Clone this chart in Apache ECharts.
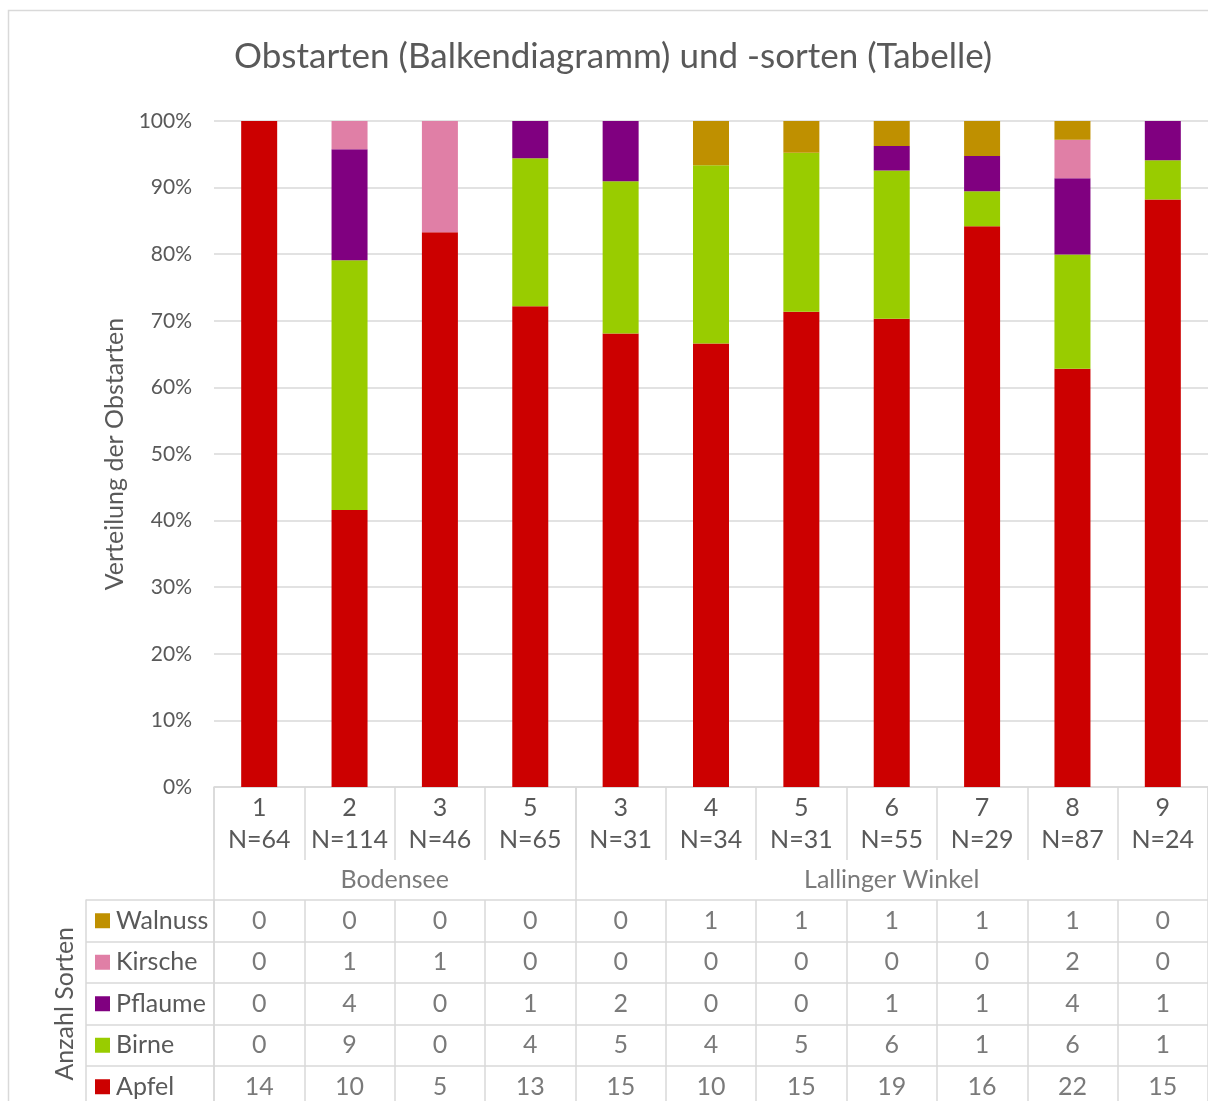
<!DOCTYPE html>
<html>
<head>
<meta charset="utf-8">
<script src="https://cdn.jsdelivr.net/npm/echarts@6/dist/echarts.min.js"></script>
<style>
html, body { margin: 0; padding: 0; background: #fff; }
#chart { width: 1208px; height: 1101px; }
</style>
</head>
<body>
<div id="chart"></div>
<script>
// Kategorien (Standort-Nr.) und Stichprobengroessen
const categories = ['1', '2', '3', '5', '3', '4', '5', '6', '7', '8', '9'];
const sampleSizes = [64, 114, 46, 65, 31, 34, 31, 55, 29, 87, 24];
const regions = ['Bodensee', 'Lallinger Winkel'];
const regionSpans = [4, 7];

// Verteilung der Obstarten in %
const apfelPct   = [100, 41.6, 83.3, 72.2, 68.1, 66.6, 71.35, 70.3, 84.2, 62.8, 88.2];
const birnePct   = [0, 37.5, 0, 22.2, 22.85, 26.75, 23.9, 22.25, 5.25, 17.15, 5.9];
const pflaumePct = [0, 16.65, 0, 5.6, 9.05, 0, 0, 3.7, 5.3, 11.45, 5.9];
const kirschePct = [0, 4.25, 16.7, 0, 0, 0, 0, 0, 0, 5.8, 0];
const walnussPct = [0, 0, 0, 0, 0, 6.65, 4.75, 3.75, 5.25, 2.8, 0];

// Anzahl Sorten (Tabelle)
const apfelSorten   = [14, 10, 5, 13, 15, 10, 15, 19, 16, 22, 15];
const birneSorten   = [0, 9, 0, 4, 5, 4, 5, 6, 1, 6, 1];
const pflaumeSorten = [0, 4, 0, 1, 2, 0, 0, 1, 1, 4, 1];
const kirscheSorten = [0, 1, 1, 0, 0, 0, 0, 0, 0, 2, 0];
const walnussSorten = [0, 0, 0, 0, 0, 1, 1, 1, 1, 1, 0];

const yTicks = [0, 100, 10];

const fruits = ['Apfel', 'Birne', 'Pflaume', 'Kirsche', 'Walnuss'];
const colors = ['#CC0000', '#99CC00', '#800080', '#E07FA6', '#BF9000'];
const pctData = [apfelPct, birnePct, pflaumePct, kirschePct, walnussPct];
const sortenData = [apfelSorten, birneSorten, pflaumeSorten, kirscheSorten, walnussSorten];

const FONT = 'Lato';
const TEXT = '#595959';
const LINE = '#D9D9D9';
const FS = 25;

const chart = echarts.init(document.getElementById('chart'));

// Balken (gestapelt)
const barSeries = fruits.map(function (f, k) {
    return {
        name: f,
        type: 'bar',
        stack: 'total',
        xAxisIndex: 0,
        yAxisIndex: 0,
        barWidth: 36,
        itemStyle: { color: colors[k] },
        data: pctData[k]
    };
});

// Regionen-Zeile
const regionData = [];
const regionBounds = [0];
let start = 0;
regions.forEach(function (r, i) {
    regionData.push({ name: r, value: [start + regionSpans[i] / 2, 0.18] });
    start += regionSpans[i];
    regionBounds.push(start);
});

// Tabellenzellen
const cellData = [];
fruits.forEach(function (f, k) {
    sortenData[k].forEach(function (v, i) {
        cellData.push([i, f, v]);
    });
});

const rich = { t: { fontSize: FS, color: TEXT, fontFamily: FONT, padding: [0, 0, 0, 6] } };
fruits.forEach(function (f, k) {
    rich['k' + k] = { width: 15, height: 15, backgroundColor: colors[k] };
});

const option = {
    animation: false,
    backgroundColor: '#fff',
    textStyle: { fontFamily: FONT, color: TEXT },
    title: {
        text: 'Obstarten (Balkendiagramm) und -sorten (Tabelle)',
        left: 229,
        top: 34,
        textStyle: { fontSize: 35, fontWeight: 'normal', color: TEXT, fontFamily: FONT }
    },
    graphic: [{
        type: 'rect',
        shape: { x: 8.5, y: 10.5, width: 1400, height: 1300 },
        style: { fill: 'none', stroke: LINE, lineWidth: 1.5 },
        silent: true
    }],
    grid: [
        { left: 214, top: 121, width: 994, height: 666, outerBoundsMode: 'none' },
        { left: 214, top: 787, width: 994, height: 113, outerBoundsMode: 'none' },
        { left: 214, top: 900, width: 994, height: 207.5, outerBoundsMode: 'none' }
    ],
    xAxis: [{
        type: 'category',
        gridIndex: 0,
        data: categories,
        axisLine: { lineStyle: { color: LINE, width: 1.5 } },
        axisTick: { show: true, length: 73, lineStyle: { color: LINE, width: 1.5 } },
        axisLabel: {
            interval: 0,
            margin: 5,
            fontSize: FS,
            lineHeight: 32,
            color: TEXT,
            formatter: function (v, i) { return v + '\nN=' + sampleSizes[i]; }
        }
    }, {
        type: 'value',
        gridIndex: 1,
        min: 0,
        max: 11,
        show: false
    }, {
        type: 'category',
        gridIndex: 2,
        data: categories,
        axisLine: { show: false },
        axisTick: { show: false },
        axisLabel: { show: false },
        splitLine: { show: true, interval: 0, lineStyle: { color: LINE, width: 1.5 } }
    }],
    yAxis: [{
        type: 'value',
        gridIndex: 0,
        min: yTicks[0],
        max: yTicks[1],
        interval: yTicks[2],
        axisLine: { show: false },
        axisTick: { show: false },
        axisLabel: { formatter: '{value}%', fontSize: 21, color: TEXT, margin: 22 },
        splitLine: { lineStyle: { color: LINE, width: 1.5 } },
        name: 'Verteilung der Obstarten',
        nameLocation: 'middle',
        nameRotate: 90,
        nameGap: 84,
        nameTextStyle: { fontSize: FS, color: TEXT }
    }, {
        type: 'value',
        gridIndex: 1,
        min: 0,
        max: 1,
        show: false
    }, {
        type: 'category',
        gridIndex: 2,
        position: 'left',
        data: fruits,
        axisLine: { show: true, lineStyle: { color: LINE, width: 1.5 } },
        axisTick: { show: true, length: 128, lineStyle: { color: LINE, width: 1.5 } },
        splitLine: { show: true, lineStyle: { color: LINE, width: 1.5 } },
        axisLabel: {
            align: 'left',
            margin: 119,
            formatter: function (v) {
                return '{k' + fruits.indexOf(v) + '|}{t|' + v + '}';
            },
            rich: rich
        }
    }, {
        type: 'category',
        gridIndex: 2,
        position: 'left',
        data: fruits,
        offset: 128,
        axisLine: { show: true, lineStyle: { color: LINE, width: 1.5 } },
        axisTick: { show: false },
        axisLabel: { show: false },
        name: 'Anzahl Sorten',
        nameLocation: 'middle',
        nameRotate: 90,
        nameGap: 9,
        nameTextStyle: { fontSize: FS, color: TEXT }
    }],
    series: barSeries.concat([{
        type: 'scatter',
        xAxisIndex: 1,
        yAxisIndex: 1,
        symbolSize: 1,
        itemStyle: { color: 'rgba(0,0,0,0)' },
        label: { show: true, position: 'inside', formatter: '{b}', fontSize: FS, color: TEXT },
        data: regionData,
        markLine: {
            silent: true,
            symbol: 'none',
            label: { show: false },
            lineStyle: { color: LINE, width: 1.5, type: 'solid' },
            data: regionBounds.map(function (b) { return { xAxis: b }; })
        }
    }, {
        type: 'scatter',
        xAxisIndex: 2,
        yAxisIndex: 2,
        symbolSize: 1,
        itemStyle: { color: 'rgba(0,0,0,0)' },
        label: {
            show: true,
            position: 'inside',
            fontSize: FS,
            color: TEXT,
            formatter: function (p) { return p.value[2]; }
        },
        data: cellData
    }])
};

chart.setOption(option);
</script>
</body>
</html>
